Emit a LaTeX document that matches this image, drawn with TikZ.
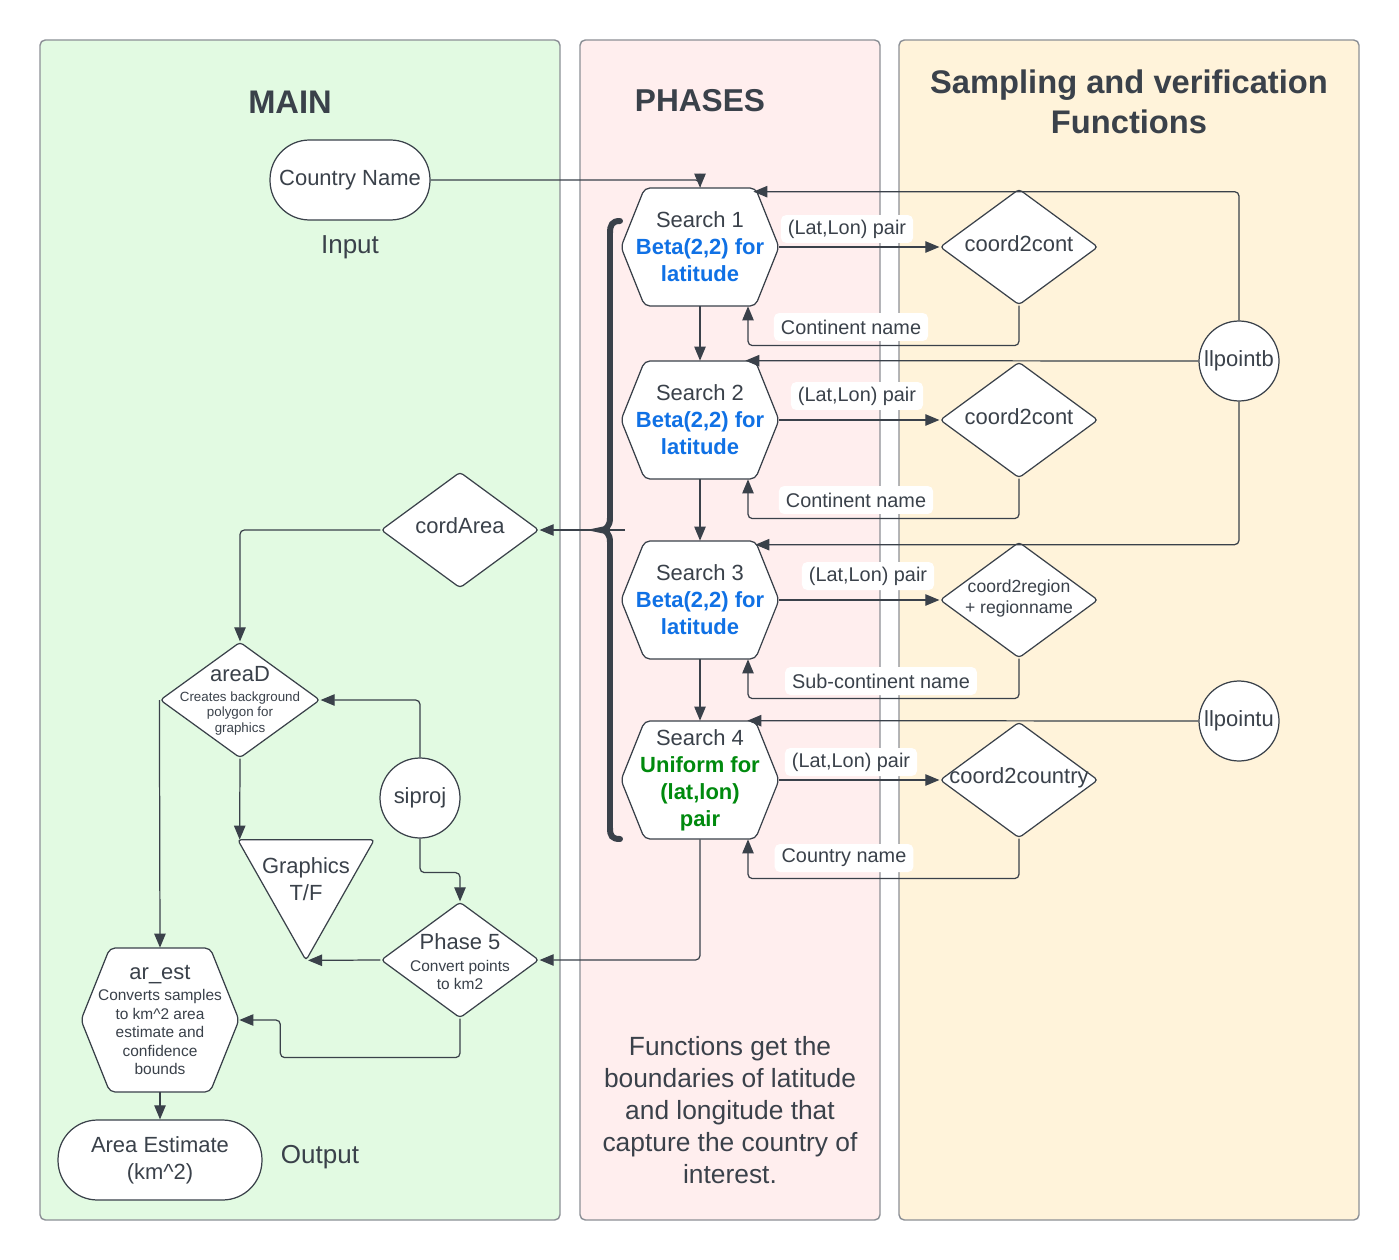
\documentclass[tikz,border=0pt]{standalone}
\usepackage{fontspec}
\setmainfont{Liberation Sans}
\usetikzlibrary{arrows.meta,shapes.geometric,calc}

\definecolor{txtc}{HTML}{3A414A}
\definecolor{panelc}{HTML}{8C9096}
\definecolor{maingreen}{HTML}{E2FAE2}
\definecolor{phasepink}{HTML}{FFEEEE}
\definecolor{funcyellow}{HTML}{FFF3DA}
\definecolor{betablue}{HTML}{1071E5}
\definecolor{unigreen}{HTML}{008A0E}

\newcommand{\bigtxt}{\fontsize{12.5}{15.3}\selectfont}
\newcommand{\smalltxt}{\fontsize{8.8}{10.6}\selectfont}
\newcommand{\tinytxt}{\fontsize{7.6}{9}\selectfont}
\newcommand{\betatxt}[1]{\textcolor{betablue}{\bfseries #1}}
\newcommand{\unitxt}[1]{\textcolor{unigreen}{\bfseries #1}}

\tikzset{
  panel/.style={draw=panelc, line width=0.8pt, rounded corners=3pt},
  shp/.style={draw=txtc, fill=white, line width=0.7pt},
  txt/.style={text=txtc, align=center, inner sep=0pt, font=\bigtxt},
  title/.style={txt, font=\fontsize{18.6}{22.7}\selectfont\bfseries},
  note/.style={txt, font=\fontsize{14.8}{18.1}\selectfont},
  dia/.style={shp, diamond, inner sep=0pt, minimum width=3.16cm, minimum height=2.32cm, rounded corners=2pt},
  circ/.style={shp, txt, circle, minimum size=1.6cm},
  stad/.style={shp, txt, rounded corners=0.79cm, minimum height=1.6cm},
  lbl/.style={txt, fill=white, rounded corners=3pt, inner xsep=4pt, minimum height=0.56cm, font=\fontsize{11.3}{13}\selectfont},
  conn/.style={draw=txtc, line width=0.7pt, rounded corners=2.5pt, -{Triangle[length=8pt,width=6.5pt]}}
}

% hexagon: [options] name, x, y, half width, half height, text
\newcommand{\hexa}[7][]{%
  \draw[shp, rounded corners=3pt] ({#3-#5},#4) -- ({#3-#5+0.4*#6},{#4-#6}) -- ({#3+#5-0.4*#6},{#4-#6}) -- ({#3+#5},#4) -- ({#3+#5-0.4*#6},{#4+#6}) -- ({#3-#5+0.4*#6},{#4+#6}) -- cycle;
  \node[txt, minimum width={#5*0.04cm}, minimum height={#6*0.04cm}, #1] (#2) at (#3,#4) {#7};}

\begin{document}
\begin{tikzpicture}[x=0.02cm, y=-0.02cm]
\useasboundingbox (0,0) rectangle (1399,1260);
\fill[white] (0,0) rectangle (1399,1260);

% panels
\draw[panel, fill=maingreen] (40,40) rectangle (560,1220);
\draw[panel, fill=phasepink] (580,40) rectangle (880,1220);
\draw[panel, fill=funcyellow] (899,40) rectangle (1359,1220);

\node[title] (tmain) at (290,102) {MAIN};
\node[title, font=\fontsize{18}{22}\selectfont\bfseries] (tphase) at (700,101) {PHASES};
\node[title] (tfunc) at (1129,102) {Sampling and verification\\Functions};

% main column
\node[stad, minimum width=3.2cm] (cn) at (350,180) {Country Name};
\node[note] (inp) at (350,247) {Input};
\node[dia] (ca) at (460,530) {};
\node[txt] (cat) at (460,526) {cordArea};
\node[dia, minimum width=3.2cm] (ad) at (240,700) {};
\node[txt, font=\tinytxt] (adt) at (240,701) {{\bigtxt areaD}\\[2pt]Creates background\\polygon for\\graphics};
\node[circ] (sip) at (420,798) {siproj};
\node[inner sep=0pt, minimum width=2.72cm, minimum height=2.4cm] (gfx) at (306,900) {};
\draw[shp, rounded corners=2pt] (gfx.north west) -- (gfx.north east) -- (gfx.south) -- cycle;
\node[txt] (gfxt) at (306,879) {Graphics\\T/F};
\node[dia] (ph5) at (460,960) {};
\node[txt, font=\smalltxt] (ph5t) at (460,962) {{\bigtxt Phase 5}\\[1.6pt]Convert points\\to km2};
\hexa[font=\smalltxt]{are}{160}{1020}{79}{72}{{\bigtxt ar\_est}\\[1.6pt]Converts samples\\to km\textasciicircum 2 area\\estimate and\\confidence\\bounds}
\node[stad, minimum width=4.08cm] (ae) at (160,1160) {Area Estimate\\(km\textasciicircum 2)};
\node[note] (outp) at (320,1157) {Output};

% phases column
\hexa{s1}{700}{247}{79}{59}{Search 1\\\betatxt{Beta(2,2) for}\\\betatxt{latitude}}
\hexa{s2}{700}{420}{79}{59}{Search 2\\\betatxt{Beta(2,2) for}\\\betatxt{latitude}}
\hexa{s3}{700}{600}{79}{59}{Search 3\\\betatxt{Beta(2,2) for}\\\betatxt{latitude}}
\hexa{s4}{700}{780}{79}{59}{Search 4\\\unitxt{Uniform for}\\\unitxt{(lat,lon)}\\\unitxt{pair}}
\node[note, font=\fontsize{15}{18.1}\selectfont] (phnote) at (730,1110) {Functions get the\\boundaries of latitude\\and longitude that\\capture the country of\\interest.};
\draw[txtc, line width=3.4pt, line cap=round] (620,221) .. controls (612,221) and (610,225) .. (610,233) -- (610,518) .. controls (610,526) and (606,530) .. (601,530) .. controls (606,530) and (610,534) .. (610,542) -- (610,828) .. controls (610,836) and (612,839) .. (620,839);
\coordinate (btip) at (625,530);

% functions column
\node[dia] (c1) at (1019,247) {};
\node[txt] (c1t) at (1019,244) {coord2cont};
\node[dia] (c2) at (1019,420) {};
\node[txt] (c2t) at (1019,417) {coord2cont};
\node[dia] (c3) at (1019,600) {};
\node[txt, font=\fontsize{10}{11.9}\selectfont] (c3t) at (1019,598) {coord2region\\+ regionname};
\node[dia] (c4) at (1019,780) {};
\node[txt] (c4t) at (1019,778) {coord2country};
\node[circ] (llb) at (1239,361) {llpointb};
\node[circ] (llu) at (1239,721) {llpointu};

% connectors
\draw[conn] (cn.east) -| (s1.north);
\draw[conn] (s1.east) -- (c1.west);
\draw[conn] (c1.south) -- ++(0,40) -| ($(s1.south)+(48,0)$);
\draw[conn] (s1.south) -- (s2.north);
\draw[conn] (s2.east) -- (c2.west);
\draw[conn] (c2.south) -- ++(0,40) -| ($(s2.south)+(48,0)$);
\draw[conn] (s2.south) -- (s3.north);
\draw[conn] (s3.east) -- (c3.west);
\draw[conn] (c3.south) -- ++(0,40) -| ($(s3.south)+(48,0)$);
\draw[conn] (s3.south) -- (s4.north);
\draw[conn] (s4.east) -- (c4.west);
\draw[conn] (c4.south) -- ++(0,40) -| ($(s4.south)+(48,0)$);
\draw[conn] (llb.north) |- ($(s1.north east)+(-26,4)$);
\draw[conn] (llb.west) -- ($(s2.north east)+(-34,0)$);
\draw[conn] (llb.south) |- ($(s3.north east)+(-24,4)$);
\draw[conn] (llu.west) -- ($(s4.north east)+(-32,0)$);
\draw[conn] (s4.south) |- (ph5.east);
\draw[conn] (btip) -- (ca.east);
\draw[conn] (ca.west) -| (ad.north);
\draw[conn] (sip.north) |- (ad.east);
\draw[conn] (sip.south) -- ++(0,34) -| (ph5.north);
\draw[conn] (ad.south) -- ($(gfx.north west)+(2,0)$);
\draw[conn] (ad.west) -- (are.north);
\draw[conn] (ph5.west) -- ($(gfx.south)+(2,0)$);
\draw[conn] (ph5.south) -- ++(0,39) -| ($(are.east)+(41,0)$) -- (are.east);
\draw[conn] (are.south) -- (ae.north);

% edge labels
\node[lbl] (lp1) at (847,229) {(Lat,Lon) pair};
\node[lbl] (cn1) at (851,327) {Continent name};
\node[lbl] (lp2) at (857,396) {(Lat,Lon) pair};
\node[lbl] (cn2) at (856,500) {Continent name};
\node[lbl] (lp3) at (868,576) {(Lat,Lon) pair};
\node[lbl] (sc3) at (881,681) {Sub-continent name};
\node[lbl] (lp4) at (851,762) {(Lat,Lon) pair};
\node[lbl] (cy4) at (844,858) {Country name};
\end{tikzpicture}
\end{document}
